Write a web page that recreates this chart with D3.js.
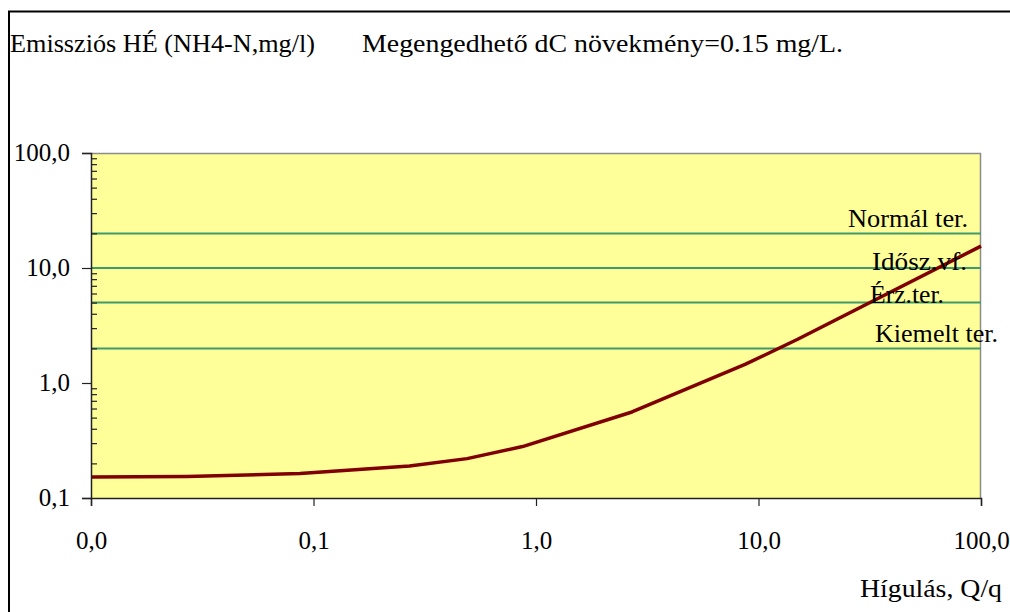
<!DOCTYPE html>
<html>
<head>
<meta charset="utf-8">
<script src="https://cdn.jsdelivr.net/npm/d3@7"></script>
<style>
  html, body { margin: 0; padding: 0; background: #fff; }
  svg { display: block; }
  svg text { font-family: "Times New Roman", "Liberation Serif", Tinos, "DejaVu Serif", serif !important; }
</style>
</head>
<body>
<svg id="chart" width="1010" height="612"></svg>
<script>
// Dilution (Q/q) and the allowed emission concentration (NH4-N, mg/l)
const dilution      = [0.01, 0.027, 0.087, 0.27, 0.49, 0.87, 2.7, 8.7, 15, 100];
const concentration = [0.152, 0.154, 0.163, 0.19, 0.22, 0.28, 0.56, 1.45, 2.4, 15.5];

// Limit values by area type
const limitValues = [20, 10, 5, 2];
const limitLabels = ["Normál ter.", "Idősz.vf.", "Érz.ter.", "Kiemelt ter."];

// Axis ticks
const xTicks = [0.01, 0.1, 1, 10, 100];
const yTicks = [0.1, 1, 10, 100];

const titleLeft  = "Emissziós HÉ (NH4-N,mg/l)";
const titleRight = "Megengedhető dC növekmény=0.15 mg/L.";
const xTitle     = "Hígulás, Q/q";

// Label placement for the limit lines: [x start, baseline shift from line, text width]
const limitLabelPos = [[848, -6, 120], [872, 2, 95], [870, 0, 74], [875, -6, 123]];

const FONT = "'Times New Roman', 'Liberation Serif', Tinos, 'DejaVu Serif', serif";
const FS = 25;

const svg = d3.select("#chart");
const plot = { left: 91, right: 981, top: 153, bottom: 498 };

const x = d3.scaleLog().domain([0.01, 100]).range([plot.left, plot.right]);
const y = d3.scaleLog().domain([0.1, 100]).range([plot.bottom, plot.top]);

const huFmt = d3.formatLocale({ decimal: ",", thousands: " ", grouping: [3], currency: ["", ""] }).format(".1f");

// Outer chart frame (runs past the right and bottom edges)
svg.append("path")
  .attr("d", `M9,620 L9,11.5 L1020,11.5`)
  .attr("fill", "none").attr("stroke", "#000").attr("stroke-width", 2);

// Plot area
svg.append("rect")
  .attr("x", plot.left).attr("y", plot.top)
  .attr("width", plot.right - plot.left).attr("height", plot.bottom - plot.top)
  .attr("fill", "#ffff99");
svg.append("path")
  .attr("d", `M${plot.left},${plot.top + 0.5} L${plot.right - 0.5},${plot.top + 0.5} L${plot.right - 0.5},${plot.bottom}`)
  .attr("fill", "none").attr("stroke", "#8c8c8c").attr("stroke-width", 1.5);

// Limit lines
svg.append("g").selectAll("line")
  .data(limitValues).join("line")
  .attr("x1", plot.left).attr("x2", plot.right)
  .attr("y1", d => y(d)).attr("y2", d => y(d))
  .attr("stroke", "#3f9b6d").attr("stroke-width", 2);

// Concentration curve
const line = d3.line().x(d => x(d[0])).y(d => y(d[1]));
svg.append("path")
  .datum(dilution.map((d, i) => [d, concentration[i]]))
  .attr("d", line)
  .attr("fill", "none").attr("stroke", "#800000").attr("stroke-width", 3.5)
  .attr("stroke-linejoin", "round");

// Limit labels
svg.append("g").selectAll("text")
  .data(limitLabels).join("text")
  .attr("x", (d, i) => limitLabelPos[i][0])
  .attr("y", (d, i) => y(limitValues[i]) + limitLabelPos[i][1])
  .attr("textLength", (d, i) => limitLabelPos[i][2])
  .attr("lengthAdjust", "spacingAndGlyphs")
  .attr("font-family", FONT)
  .attr("font-size", FS).attr("fill", "#000")
  .text(d => d);

// Y axis: major ticks outward with labels, minor ticks inward
const minorY = [];
[0.1, 1, 10].forEach(dec => { for (let k = 2; k <= 9; k++) minorY.push(dec * k); });

svg.append("g").attr("transform", `translate(${plot.left},0)`)
  .call(d3.axisLeft(y).tickValues(yTicks).tickFormat(huFmt).tickSize(9).tickPadding(12))
  .call(g => g.selectAll(".tick text").attr("dy", "0.28em"));
svg.append("g").attr("transform", `translate(${plot.left},0)`)
  .call(d3.axisLeft(y).tickValues(minorY).tickFormat("").tickSize(-6))
  .call(g => g.select(".domain").remove());

// X axis
svg.append("g").attr("transform", `translate(0,${plot.bottom})`)
  .call(d3.axisBottom(x).tickValues(xTicks).tickFormat(huFmt).tickSize(8).tickPadding(25));

svg.selectAll("g").attr("font-family", FONT);
svg.selectAll(".domain").attr("stroke", "#222").attr("stroke-width", 1.5);
svg.selectAll(".tick line").attr("stroke", "#222").attr("stroke-width", 1.2);
svg.selectAll(".tick text")
  .attr("font-family", FONT)
  .attr("font-size", FS).attr("fill", "#000");

// Titles
svg.append("text").attr("x", 10).attr("y", 52).attr("font-family", FONT)
  .attr("font-size", FS).attr("textLength", 305).attr("lengthAdjust", "spacingAndGlyphs")
  .text(titleLeft);
svg.append("text").attr("x", 362).attr("y", 52).attr("font-family", FONT)
  .attr("font-size", FS).attr("textLength", 481).attr("lengthAdjust", "spacingAndGlyphs")
  .text(titleRight);
svg.append("text").attr("x", 860).attr("y", 597).attr("font-family", FONT)
  .attr("font-size", FS).attr("textLength", 142).attr("lengthAdjust", "spacingAndGlyphs")
  .text(xTitle);
</script>
</body>
</html>
